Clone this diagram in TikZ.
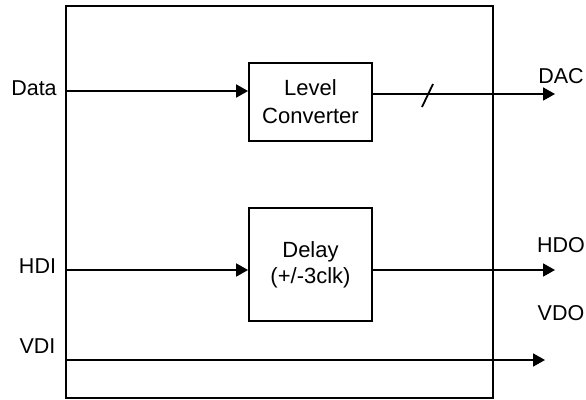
\documentclass[tikz,border=0pt]{standalone}
\usepackage{fontspec}
\setmainfont{Liberation Sans}
\usetikzlibrary{arrows.meta}
\begin{document}
\begin{tikzpicture}[x=1pt,y=-1pt,
  wire/.style={line width=1.8pt},
  arr/.style={wire,-{Triangle[length=12pt,width=13pt]}},
  blk/.style={draw,line width=1.8pt,rectangle,inner sep=0pt,align=center},
  lbl/.style={font=\fontsize{21.5}{25}\selectfont,anchor=base,inner sep=0pt}]
\useasboundingbox (0,0) rectangle (586,399);
% outer frame
\node[blk,minimum width=427pt,minimum height=392pt] (frame) at (279.5,202) {};
% blocks
\node[blk,minimum width=123pt,minimum height=78pt,font=\fontsize{22}{28}\selectfont] (lc) at (310.5,102) {Level\\Converter};
\node[blk,minimum width=123pt,minimum height=113pt,font=\fontsize{22}{26}\selectfont] (dl) at (310.5,264.5) {Delay\\(+/-3clk)};
% coordinates
\coordinate (datain) at (66,91);
\coordinate (dacend) at (555,94);
\coordinate (hdiin) at (66,270);
\coordinate (hdoend) at (555,270);
\coordinate (vdiin) at (66,360);
\coordinate (vdoend) at (545,360);
\coordinate (slash) at (428,95);
% connectors
\draw[arr] (datain) -- (datain -| lc.west);
\draw[arr] (dacend -| lc.east) -- (dacend);
\draw[wire] ([shift={(-6,12)}]slash) -- ([shift={(5,-11)}]slash);
\draw[arr] (hdiin) -- (hdiin -| dl.west);
\draw[arr] (hdoend -| dl.east) -- (hdoend);
\draw[arr] (vdiin) -- (vdoend);
% labels
\node[lbl] (ldata) at (34,95) {Data};
\node[lbl] (ldac) at (561,83) {DAC};
\node[lbl] (lhdi) at (37.5,273) {HDI};
\node[lbl] (lvdi) at (37.5,353) {VDI};
\node[lbl] (lhdo) at (561,252) {HDO};
\node[lbl] (lvdo) at (561,320) {VDO};
\end{tikzpicture}
\end{document}
